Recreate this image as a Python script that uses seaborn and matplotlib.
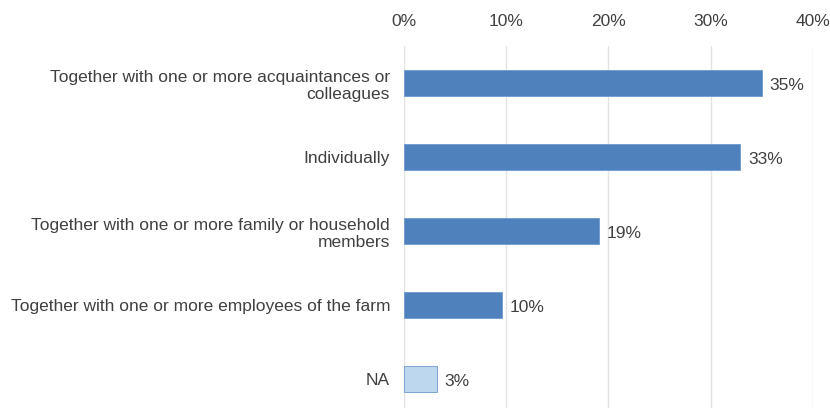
import matplotlib
matplotlib.use("Agg")
import matplotlib.pyplot as plt
import seaborn as sns
import pandas as pd
from matplotlib.ticker import FuncFormatter

categories = [
    "Together with one or more acquaintances or\ncolleagues",
    "Individually",
    "Together with one or more family or household\nmembers",
    "Together with one or more employees of the farm",
    "NA",
]
shares = [35.0, 32.9, 19.1, 9.6, 3.2]
bar_colors = ["#4f81bd", "#4f81bd", "#4f81bd", "#4f81bd", "#bdd7ee"]
x_ticks = [0, 10, 20, 30, 40]

df = pd.DataFrame({"category": categories, "share": shares})

sns.set_theme(style="white")
plt.rcParams["font.family"] = ["Liberation Sans", "DejaVu Sans"]

fig = plt.figure(figsize=(8.3, 4.08), dpi=100)
ax = fig.add_axes([0.4867, -0.0196, 0.9795 - 0.4867, 0.887 + 0.0196])

sns.barplot(data=df, y="category", x="share", hue="category",
            palette=bar_colors, orient="h", width=0.35, legend=False,
            saturation=1, edgecolor="#6f9ad0", linewidth=0.6, ax=ax, zorder=3)

fs = 12.5
ax.set_xlim(0, 40)
ax.set_xticks(x_ticks)
ax.xaxis.set_major_formatter(FuncFormatter(lambda v, p: f"{v:.0f}%"))
ax.xaxis.tick_top()
ax.tick_params(axis="x", length=0, pad=12, labelsize=fs, labelcolor="#404040")
ax.tick_params(axis="y", length=0, pad=10, labelsize=fs, labelcolor="#404040")
ax.set_xlabel("")
ax.set_ylabel("")
ax.grid(axis="x", color="#e3e3e3", linewidth=1, zorder=0)
ax.set_axisbelow(True)
for s in ax.spines.values():
    s.set_visible(False)

for i, v in enumerate(shares):
    ax.text(v + 0.75, i + 0.03, f"{v:.0f}%", va="center", ha="left",
            fontsize=fs, color="#404040")

fig.savefig("out.png", dpi=100)
